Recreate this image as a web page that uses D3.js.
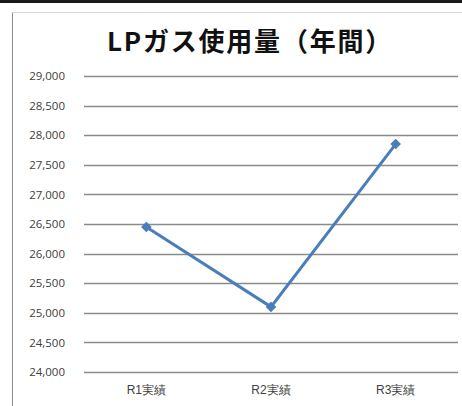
<!DOCTYPE html>
<html>
<head>
<meta charset="utf-8">
<script src="https://cdn.jsdelivr.net/npm/d3@7"></script>
<style>
  body { margin: 0; background: #fff; }
  svg { display: block; font-family: "Noto Sans CJK JP", "Noto Sans", sans-serif; }
</style>
</head>
<body>
<div class="chart"></div>
<script>
// data
const categories = ["R1実績", "R2実績", "R3実績"];
const usage = [26450, 25100, 27850];
const yTicks = [24000, 24500, 25000, 25500, 26000, 26500, 27000, 27500, 28000, 28500, 29000];

const wdth = 462;
const hght = 406;
const margin = {top: 76, right: 4, bottom: 34, left: 84};

const svg = d3.select(".chart")
  .append("svg")
  .attr("width", wdth)
  .attr("height", hght);

// black band at the very top + chart frame
svg.append("rect")
  .attr("x", 0).attr("y", 0)
  .attr("width", wdth).attr("height", 3)
  .attr("fill", "#1a1a1a");

svg.append("line")
  .attr("x1", 12.5).attr("x2", 12.5)
  .attr("y1", 12).attr("y2", hght)
  .attr("stroke", "#8c8c8c");
svg.append("line")
  .attr("x1", 12).attr("x2", wdth)
  .attr("y1", 12.5).attr("y2", 12.5)
  .attr("stroke", "#d9d9d9");

svg.append("text")
  .attr("x", 250)
  .attr("y", 51)
  .attr("text-anchor", "middle")
  .attr("font-size", 26)
  .attr("font-weight", "bold")
  .attr("letter-spacing", 1.8)
  .attr("fill", "#111")
  .text("LPガス使用量（年間）");

const x = d3.scaleBand()
  .domain(categories)
  .range([margin.left, wdth - margin.right]);

const y = d3.scaleLinear()
  .domain([24000, 29000])
  .range([hght - margin.bottom, margin.top]);

// gridlines
svg.append("g")
  .selectAll("line")
  .data(yTicks)
  .enter()
  .append("line")
  .attr("x1", margin.left)
  .attr("x2", wdth - margin.right)
  .attr("y1", d => Math.round(y(d)) + 0.5)
  .attr("y2", d => Math.round(y(d)) + 0.5)
  .attr("stroke", "#8a8a8a")
  .attr("stroke-width", 1.3);

// y axis labels
const yAxis = svg.append("g")
  .attr("transform", "translate(" + (margin.left - 16) + ",0)")
  .call(d3.axisLeft(y).tickValues(yTicks).tickSize(0).tickFormat(d3.format(",")));
yAxis.select(".domain").remove();
yAxis.selectAll("text")
  .attr("font-family", "'Open Sans', 'Noto Sans', sans-serif")
  .attr("font-size", 11.5)
  .attr("fill", "#404040");

// x axis labels
const xAxis = svg.append("g")
  .attr("transform", "translate(0," + (hght - margin.bottom + 10) + ")")
  .call(d3.axisBottom(x).tickSize(0));
xAxis.select(".domain").remove();
xAxis.selectAll("text")
  .attr("font-size", 12)
  .attr("fill", "#404040");

const cx = d => x(d) + x.bandwidth() / 2;

svg.append("path")
  .datum(categories)
  .attr("fill", "none")
  .attr("stroke", "#4a7ebb")
  .attr("stroke-width", 3)
  .attr("d", d3.line()
    .x(d => cx(d))
    .y((d, i) => y(usage[i])));

svg.append("g")
  .selectAll("path")
  .data(categories)
  .enter()
  .append("path")
  .attr("d", d3.symbol().type(d3.symbolSquare).size(56))
  .attr("transform", (d, i) => "translate(" + cx(d) + "," + y(usage[i]) + ") rotate(45)")
  .attr("fill", "#4a7ebb");
</script>
</body>
</html>
